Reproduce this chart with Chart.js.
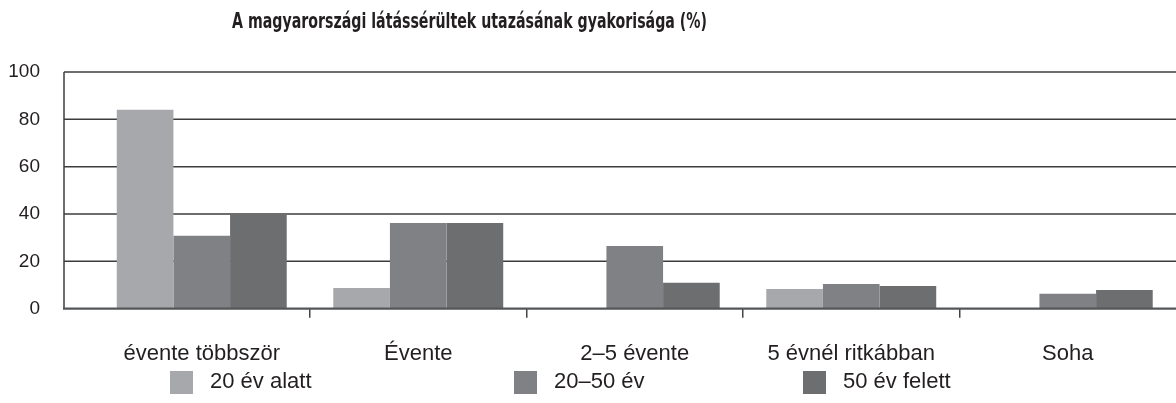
<!DOCTYPE html>
<html lang="hu">
<head>
<meta charset="utf-8">
<title>Látássérültek utazása</title>
<script src="https://cdn.jsdelivr.net/npm/chart.js@4.4.1/dist/chart.umd.min.js"></script>
<style>
  html, body { margin: 0; padding: 0; background: #fff; }
  #wrap { position: relative; width: 1176px; height: 403px; overflow: hidden; }
  #legend { position: absolute; left: 0; top: 369px; width: 1176px; height: 34px;
    font-family: "Liberation Sans", Arial, sans-serif; font-size: 22px; line-height: 24px; color: #231f20; }
  #legend .item { position: absolute; top: 0; display: flex; align-items: flex-start; white-space: nowrap; }
  #legend .box { width: 23px; height: 23px; margin-right: 17px; margin-top: 2px; }
  #legend .item:nth-child(1) { left: 170px; }
  #legend .item:nth-child(2) { left: 514px; }
  #legend .item:nth-child(3) { left: 803px; }
</style>
</head>
<body>
<div id="wrap">
  <canvas id="chart" width="1176" height="403"></canvas>
  <div id="legend"></div>
</div>
<script>
// Chart data
const chartTitle = "A magyarországi látássérültek utazásának gyakorisága (%)";
const categories = ["évente többször", "Évente", "2–5 évente", "5 évnél ritkábban", "Soha"];
const seriesNames = ["20 év alatt", "20–50 év", "50 év felett"];
const under20 = [84, 8.7, 0, 8.3, 0];
const age20to50 = [30.8, 36.2, 26.5, 10.4, 6.3];
const over50 = [40, 36.2, 11, 9.6, 7.9];
const yTicks = [0, 20, 40, 60, 80, 100];
const seriesColors = ["#a7a8ab", "#808184", "#6d6e70"];

const textColor = "#231f20";
const baseFont = '"Liberation Sans", Arial, sans-serif';

// Horizontal grid lines + left axis line, drawn behind the bars
const gridPlugin = {
  id: "gridBack",
  beforeDatasetsDraw(chart) {
    const { ctx, chartArea, scales } = chart;
    const y = scales.y;
    const x0 = chartArea.left - 29.5;
    ctx.save();
    ctx.strokeStyle = "#3c3c3c";
    ctx.lineWidth = 1.5;
    yTicks.forEach((v) => {
      if (v === 0) return;
      const py = y.getPixelForValue(v);
      ctx.beginPath();
      ctx.moveTo(x0, py);
      ctx.lineTo(chartArea.right, py);
      ctx.stroke();
    });
    ctx.beginPath();
    ctx.moveTo(x0, y.getPixelForValue(100));
    ctx.lineTo(x0, y.getPixelForValue(0));
    ctx.stroke();
    ctx.restore();
  },
  afterDatasetsDraw(chart) {
    // zero line sits on top of the bar bottoms
    const { ctx, chartArea, scales } = chart;
    const py = scales.y.getPixelForValue(0);
    ctx.save();
    ctx.strokeStyle = "#555658";
    ctx.lineWidth = 2.2;
    ctx.beginPath();
    ctx.moveTo(chartArea.left - 30.5, py);
    ctx.lineTo(chartArea.right, py);
    ctx.stroke();
    ctx.restore();
  },
};

// Title, left of centre like the original; squeezed to the original's width
const titlePlugin = {
  id: "leftTitle",
  afterDraw(chart) {
    const ctx = chart.ctx;
    const maxW = 475;
    ctx.save();
    ctx.fillStyle = textColor;
    ctx.font = 'bold 22px "Liberation Sans Narrow", "DejaVu Sans Condensed", sans-serif';
    ctx.textAlign = "left";
    ctx.textBaseline = "alphabetic";
    const w = ctx.measureText(chartTitle).width;
    ctx.translate(232, 28);
    if (w > maxW) ctx.scale(maxW / w, 1);
    ctx.fillText(chartTitle, 0, 0);
    ctx.restore();
  },
};

// HTML legend built from the datasets
const htmlLegend = {
  id: "htmlLegend",
  afterUpdate(chart) {
    const box = document.getElementById("legend");
    box.innerHTML = "";
    chart.data.datasets.forEach((ds) => {
      const item = document.createElement("div");
      item.className = "item";
      item.innerHTML = `<span class="box" style="background:${ds.backgroundColor}"></span><span>${ds.label}</span>`;
      box.appendChild(item);
    });
  },
};

const ctx = document.getElementById("chart").getContext("2d");

new Chart(ctx, {
  type: "bar",
  data: {
    labels: categories,
    datasets: [
      { label: seriesNames[0], data: under20, backgroundColor: seriesColors[0] },
      { label: seriesNames[1], data: age20to50, backgroundColor: seriesColors[1] },
      { label: seriesNames[2], data: over50, backgroundColor: seriesColors[2] },
    ],
  },
  options: {
    responsive: false,
    animation: false,
    layout: { padding: { top: 72, right: 0, bottom: 24.3, left: 0 } },
    datasets: {
      bar: { categoryPercentage: 0.785, barPercentage: 1.0, borderWidth: 0 },
    },
    scales: {
      x: {
        offset: true,
        border: { display: false },
        grid: {
          offset: true,
          drawOnChartArea: false,
          drawTicks: true,
          tickLength: 9,
          lineWidth: 1.5,
          color: (c) => (c.index === 0 || c.index === undefined ? "rgba(0,0,0,0)" : "#444"),
        },
        ticks: {
          color: textColor,
          font: { family: baseFont, size: 22 },
          padding: 23,
          maxRotation: 0,
        },
        afterFit: (s) => { s.height = 70; },
      },
      y: {
        min: 0,
        max: 100,
        border: { display: false },
        grid: { display: false, drawTicks: false },
        ticks: {
          stepSize: 20,
          color: textColor,
          font: { family: baseFont, size: 19 },
          padding: 53.5,
        },
        afterFit: (s) => { s.width = 93.5; },
      },
    },
    plugins: {
      legend: { display: false },
      title: { display: false },
      tooltip: { enabled: false },
    },
  },
  plugins: [gridPlugin, titlePlugin, htmlLegend],
});
</script>
</body>
</html>
